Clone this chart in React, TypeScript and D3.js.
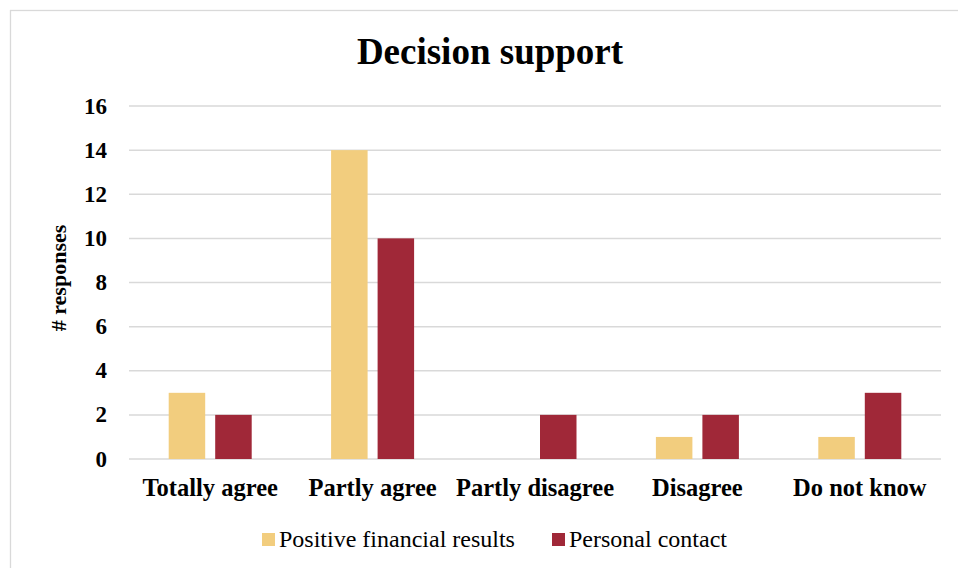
import React from "react";
import * as d3 from "d3";

const categories = ["Totally agree", "Partly agree", "Partly disagree", "Disagree", "Do not know"];
const seriesNames = ["Positive financial results", "Personal contact"];
const positiveFinancial = [3, 14, 0, 1, 1];
const personalContact = [2, 10, 2, 2, 3];
const yTicks = [0, 2, 4, 6, 8, 10, 12, 14, 16];
const colors = ["#F2CD7E", "#A02838"];

const W = 958;
const H = 568;
const plot = { left: 129, right: 941, top: 106, bottom: 459 };
const serif = "'Liberation Serif', 'Times New Roman', serif";

export default function App() {
  const x = d3.scaleBand<string>().domain(categories).range([plot.left, plot.right]).padding(0);
  const y = d3.scaleLinear().domain([0, 16]).range([plot.bottom, plot.top]);
  const barW = 36.5;
  const innerGap = 10;
  const series = [positiveFinancial, personalContact];

  return (
    <svg width={W} height={H} style={{ position: "absolute", left: 0, top: 0, background: "#fff" }}>
      <rect x={10.5} y={10.5} width={980} height={600} fill="#fff" stroke="#D9D9D9" strokeWidth={1.3} />
      <text x={490} y={64} textAnchor="middle" fontFamily={serif} fontWeight="bold" fontSize={37} fill="#000">
        Decision support
      </text>
      {yTicks.map((t) => (
        <g key={t}>
          <line x1={plot.left} x2={plot.right} y1={y(t)} y2={y(t)} stroke="#D9D9D9" strokeWidth={1.5} />
          <text x={107} y={y(t) + 7.5} textAnchor="end" fontFamily={serif} fontWeight="bold" fontSize={23} fill="#000">
            {t}
          </text>
        </g>
      ))}
      <text
        transform={`translate(66, 278) rotate(-90)`}
        textAnchor="middle"
        fontFamily={serif}
        fontWeight="bold"
        fontSize={22}
        fill="#000"
      >
        # responses
      </text>
      {categories.map((c, i) => {
        const cx = (x(c) as number) + x.bandwidth() / 2;
        return (
          <g key={c}>
            {series.map((s, j) => {
              const bx = j === 0 ? cx - innerGap / 2 - barW : cx + innerGap / 2;
              const v = s[i];
              if (v === 0) return null;
              return (
                <rect key={j} x={bx} y={y(v)} width={barW} height={y(0) - y(v)} fill={colors[j]} />
              );
            })}
            <text x={cx} y={496} textAnchor="middle" fontFamily={serif} fontWeight="bold" fontSize={24.5} fill="#000">
              {c}
            </text>
          </g>
        );
      })}
      <g>
        <rect x={262} y={533} width={13} height={13} fill={colors[0]} />
        <text x={279} y={547} fontFamily={serif} fontSize={24} fill="#000">
          {seriesNames[0]}
        </text>
        <rect x={552} y={533} width={13} height={13} fill={colors[1]} />
        <text x={569} y={547} fontFamily={serif} fontSize={24} fill="#000">
          {seriesNames[1]}
        </text>
      </g>
    </svg>
  );
}
